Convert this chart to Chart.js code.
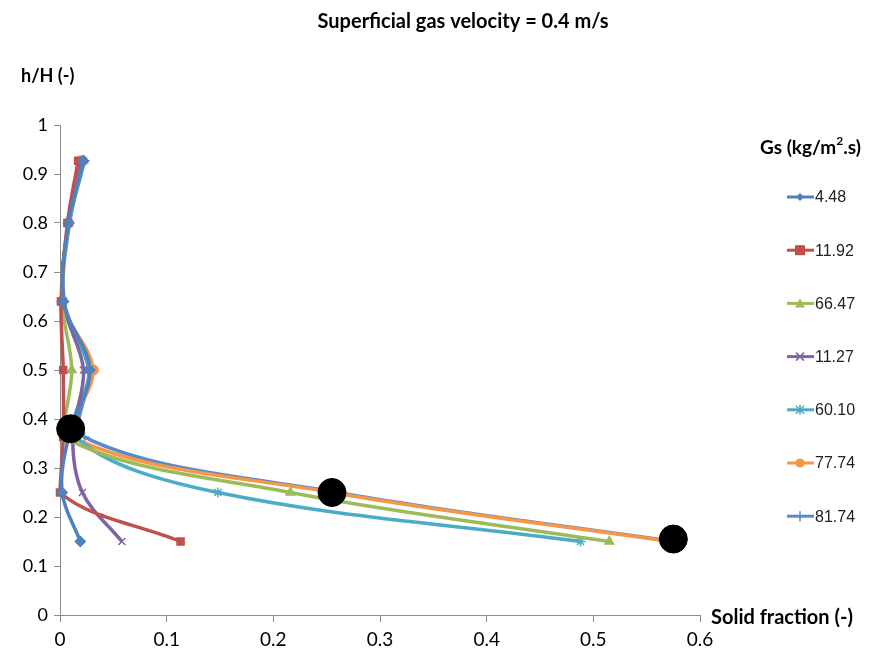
<!DOCTYPE html>
<html lang="en">
<head>
<meta charset="UTF-8">
<title>Solid fraction profile</title>
<script src="https://cdn.jsdelivr.net/npm/chart.js"></script>
<style>
    body { margin: 0; padding: 0; background: #fff; }
    .wrap { width: 872px; height: 653px; }
</style>
</head>
<body>
<div class="wrap"><canvas id="profile" width="872" height="653"></canvas></div>
<script>
// measurement heights (h/H), shared by every series
const heights = [0.927, 0.80, 0.64, 0.50, 0.363, 0.25, 0.15];

// solid fraction at each height, one array per Gs
const gs448  = [0.022, 0.008, 0.003, 0.028, 0.008, 0.002, 0.019];
const gs1192 = [0.017, 0.007, 0.001, 0.003, 0.003, 0.000, 0.113];
const gs6647 = [0.022, 0.008, 0.002, 0.011, 0.004, 0.216, 0.515];
const gs1127 = [0.020, 0.008, 0.003, 0.022, 0.012, 0.021, 0.058];
const gs6010 = [0.022, 0.008, 0.003, 0.027, 0.015, 0.148, 0.488];
const gs7774 = [0.020, 0.008, 0.002, 0.031, 0.012, 0.255, 0.572];
const gs8174 = [0.023, 0.009, 0.004, 0.027, 0.023, 0.260, 0.575];

const seriesNames = ['4.48', '11.92', '66.47', '11.27', '60.10', '77.74', '81.74'];
const seriesData = [gs448, gs1192, gs6647, gs1127, gs6010, gs7774, gs8174];
const seriesColors = ['#4F81BD', '#C0504D', '#9BBB59', '#8064A2', '#4BACC6', '#F79646', '#5A8ACB'];
const seriesMarkers = ['rectRot', 'rect', 'triangle', 'crossRot', 'star', 'circle', 'cross'];

// big black highlight dots
const dotX = [0.010, 0.255, 0.575];
const dotY = [0.380, 0.250, 0.155];

const xTicks = [0, 0.1, 0.2, 0.3, 0.4, 0.5, 0.6];
const yTicks = [0, 0.1, 0.2, 0.3, 0.4, 0.5, 0.6, 0.7, 0.8, 0.9, 1];

const labelFont = 'Lato, "Open Sans", sans-serif';

function pts(xs, ys) {
    return xs.map((x, i) => ({ x: x, y: ys[i] }));
}

const datasets = seriesData.map((d, i) => ({
    label: seriesNames[i],
    data: pts(d, heights),
    showLine: true,
    tension: 0.35,
    borderColor: seriesColors[i],
    backgroundColor: seriesColors[i],
    borderWidth: 3.5,
    pointStyle: seriesMarkers[i],
    pointRadius: 5,
    pointBorderWidth: 1.5,
    clip: false
}));

// dots go on top of the lines
datasets.push({
    label: 'dots',
    data: pts(dotX, dotY),
    showLine: false,
    backgroundColor: '#000',
    borderColor: '#000',
    pointRadius: 14,
    pointStyle: 'circle',
    order: -1,
    clip: false
});

// simple marker drawing for the legend
function drawMarker(ctx, style, x, y, color) {
    ctx.save();
    ctx.fillStyle = color;
    ctx.strokeStyle = color;
    ctx.lineWidth = 1.5;
    ctx.beginPath();
    if (style === 'rectRot') {
        ctx.moveTo(x, y - 4); ctx.lineTo(x + 4, y); ctx.lineTo(x, y + 4); ctx.lineTo(x - 4, y); ctx.closePath(); ctx.fill();
    } else if (style === 'rect') {
        ctx.fillRect(x - 5, y - 5, 10, 10);
    } else if (style === 'triangle') {
        ctx.moveTo(x, y - 5); ctx.lineTo(x + 5, y + 4); ctx.lineTo(x - 5, y + 4); ctx.closePath(); ctx.fill();
    } else if (style === 'crossRot') {
        ctx.moveTo(x - 4, y - 4); ctx.lineTo(x + 4, y + 4); ctx.moveTo(x + 4, y - 4); ctx.lineTo(x - 4, y + 4); ctx.stroke();
    } else if (style === 'star') {
        ctx.moveTo(x - 4, y - 4); ctx.lineTo(x + 4, y + 4); ctx.moveTo(x + 4, y - 4); ctx.lineTo(x - 4, y + 4);
        ctx.moveTo(x, y - 5); ctx.lineTo(x, y + 5); ctx.stroke();
    } else if (style === 'circle') {
        ctx.arc(x, y, 4.5, 0, Math.PI * 2); ctx.fill();
    } else if (style === 'cross') {
        ctx.moveTo(x, y - 5); ctx.lineTo(x, y + 5); ctx.stroke();
    }
    ctx.restore();
}

const textPlugin = {
    id: 'textPlugin',
    afterDraw(chart) {
        const ctx = chart.ctx;
        ctx.save();
        ctx.fillStyle = '#000';
        ctx.textBaseline = 'middle';

        ctx.font = 'bold 20px ' + labelFont;
        ctx.textAlign = 'center';
        ctx.fillText('Superficial gas velocity = 0.4 m/s', 463, 22);

        ctx.textAlign = 'left';
        ctx.font = 'bold 18px ' + labelFont;
        ctx.fillText('h/H (-)', 21, 76);
        ctx.font = 'bold 20px ' + labelFont;
        ctx.fillText('Solid fraction (-)', 711, 618);

        ctx.font = 'bold 19px ' + labelFont;
        ctx.fillText('Gs (kg/m', 760, 148);
        let w = ctx.measureText('Gs (kg/m').width;
        ctx.font = 'bold 12px ' + labelFont;
        ctx.fillText('2', 760 + w, 141);
        let w2 = ctx.measureText('2').width;
        ctx.font = 'bold 19px ' + labelFont;
        ctx.fillText('.s)', 760 + w + w2, 148);

        // legend entries
        ctx.font = '16px "Liberation Sans", Arial, sans-serif';
        seriesNames.forEach((name, i) => {
            const y = 197 + i * 53.2;
            ctx.strokeStyle = seriesColors[i];
            ctx.lineWidth = 3;
            ctx.beginPath();
            ctx.moveTo(787, y);
            ctx.lineTo(814, y);
            ctx.stroke();
            drawMarker(ctx, seriesMarkers[i], 800, y, seriesColors[i]);
            ctx.fillStyle = '#222';
            ctx.fillText(name, 815, y + 1);
        });
        ctx.restore();
    }
};

const axisColor = '#8c8c8c';

new Chart(document.getElementById('profile').getContext('2d'), {
    type: 'scatter',
    data: { datasets: datasets },
    options: {
        responsive: false,
        animation: false,
        layout: { padding: { left: 0, top: 125, right: 172, bottom: 0 } },
        plugins: {
            legend: { display: false },
            tooltip: { enabled: false }
        },
        scales: {
            x: {
                type: 'linear',
                min: 0,
                max: 0.6,
                afterFit(scale) { scale.height = 38; },
                afterBuildTicks(scale) { scale.ticks = xTicks.map(v => ({ value: v })); },
                grid: { display: true, drawOnChartArea: false, drawTicks: true, tickLength: 7, color: axisColor },
                border: { display: true, color: axisColor, width: 1 },
                ticks: {
                    color: '#000',
                    padding: 6,
                    font: { family: labelFont, size: 19 },
                    callback: v => String(Math.round(v * 10) / 10)
                }
            },
            y: {
                type: 'linear',
                min: 0,
                max: 1,
                afterFit(scale) { scale.width = 60; },
                afterBuildTicks(scale) { scale.ticks = yTicks.map(v => ({ value: v })); },
                grid: { display: true, drawOnChartArea: false, drawTicks: true, tickLength: 6, color: axisColor },
                border: { display: true, color: axisColor, width: 1 },
                ticks: {
                    color: '#000',
                    padding: 6,
                    font: { family: labelFont, size: 18 },
                    callback: v => String(Math.round(v * 10) / 10)
                }
            }
        }
    },
    plugins: [textPlugin]
});
</script>
</body>
</html>
